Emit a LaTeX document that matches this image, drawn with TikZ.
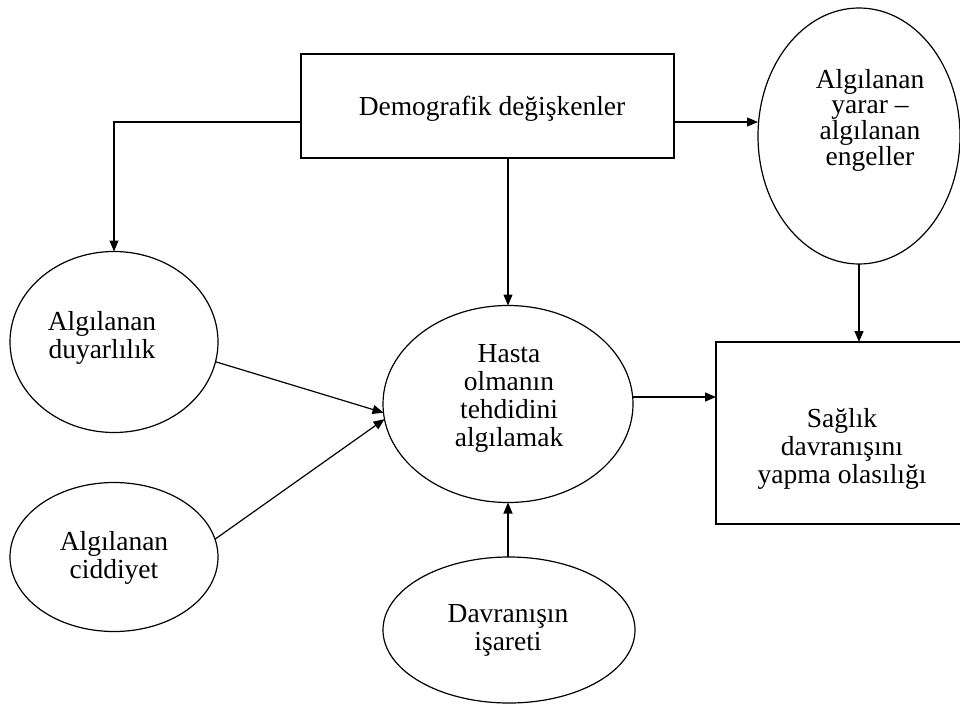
\documentclass[tikz,border=0pt]{standalone}
\usepackage{fontspec}
\setmainfont{Liberation Serif}
\usetikzlibrary{shapes.geometric,arrows.meta}
\tikzset{
  shp/.style={draw, line width=1.2pt, inner sep=0pt, outer sep=0pt},
  ell/.style={shp, ellipse},
  rbox/.style={shp, rectangle},
  lbl/.style={align=center, font=\fontsize{27.5}{28}\selectfont, inner sep=0pt},
  arr/.style={line width=1.2pt, -{Triangle[length=11pt,width=9pt]}},
  con/.style={line width=1.2pt}
}
\begin{document}
\begin{tikzpicture}[x=1pt,y=-1pt]
\useasboundingbox (0,0) rectangle (960,709);
\clip (0,0) rectangle (960,709);
% shapes
\node[rbox, minimum width=373pt, minimum height=104pt] (demo) at (487.5,106) {};
\node[ell, minimum width=202pt, minimum height=256pt] (yarar) at (859,136) {};
\node[ell, minimum width=208pt, minimum height=181pt] (duy) at (114,342) {};
\node[ell, minimum width=208pt, minimum height=149pt] (cid) at (114,557) {};
\node[ell, minimum width=250pt, minimum height=197pt] (hasta) at (508,404) {};
\node[ell, minimum width=252pt, minimum height=146pt] (davr) at (509,630) {};
\node[rbox, minimum width=259pt, minimum height=182pt] (saglik) at (845.5,433) {};
% texts
\node[lbl, anchor=base] (tdemo) at (492,115) {Demografik değişkenler};
\node[lbl, font=\fontsize{27.5}{25}\selectfont] (tyarar) at (870,120) {Algılanan\\yarar –\\algılanan\\engeller};
\node[lbl] (tduy) at (102,338) {Algılanan\\duyarlılık};
\node[lbl] (tcid) at (114,558) {Algılanan\\ciddiyet};
\node[lbl] (thasta) at (509,398) {Hasta\\olmanın\\tehdidini\\algılamak};
\node[lbl] (tdavr) at (508,630) {Davranışın\\işareti};
\node[lbl] (tsaglik) at (842,449) {Sağlık\\davranışını\\yapma olasılığı};
% connector points
\coordinate (dL) at ([yshift=-16pt]demo.west);
\coordinate (dR) at ([yshift=-16pt]demo.east);
\coordinate (hR) at ([yshift=7pt]hasta.east);
% connectors
\draw[arr] (dL) -| (duy.north);
\draw[arr] (dR) -- (dR -| yarar.west);
\draw[arr] (hasta.north |- demo.south) -- (hasta.north);
\draw[arr] (yarar.south) -- (yarar.south |- saglik.north);
\draw[arr] (duy.-11) -- (hasta.184);
\draw[arr] (cid.10) -- (hasta.187);
\draw[arr] (hR) -- (hR -| saglik.west);
\draw[arr] (hasta.south |- davr.north) -- (hasta.south);
\end{tikzpicture}
\end{document}
